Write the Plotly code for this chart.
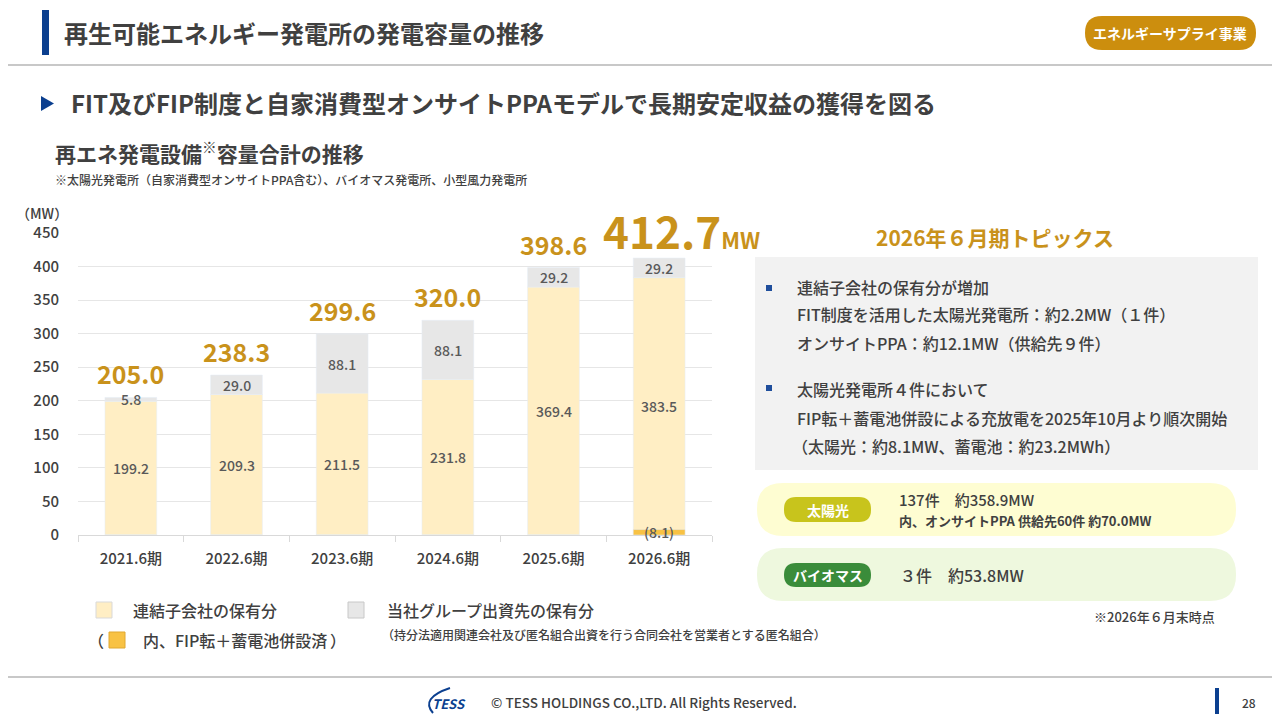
import plotly.graph_objects as go

# chart data (MW)
periods = ["2021.6期", "2022.6期", "2023.6期", "2024.6期", "2025.6期", "2026.6期"]
consolidated = [199.2, 209.3, 211.5, 231.8, 369.4, 383.5]   # 連結子会社の保有分
group_invest = [5.8, 29.0, 88.1, 88.1, 29.2, 29.2]          # 当社グループ出資先の保有分
fip_battery = [0, 0, 0, 0, 0, 8.1]                          # 内、FIP転＋蓄電池併設済
totals = [205.0, 238.3, 299.6, 320.0, 398.6, 412.7]
y_ticks = [0, 50, 100, 150, 200, 250, 300, 350, 400, 450]

topics = [
    "連結子会社の保有分が増加",
    "FIT制度を活用した太陽光発電所：約2.2MW（１件）",
    "オンサイトPPA：約12.1MW（供給先９件）",
    "太陽光発電所４件において",
    "FIP転＋蓄電池併設による充放電を2025年10月より順次開始",
    "（太陽光：約8.1MW、蓄電池：約23.2MWh）",
]

FONT = "Noto Sans CJK JP, Noto Sans, sans-serif"
TXT = "#404040"
CREAM = "#FFEEC4"
GRAY = "#E7E7E7"
ORANGE = "#F8C244"
GOLD = "#C9921B"
BLUE = "#0B3F8F"
W, H = 1280, 720
OFF = 8  # page body margin, the figure is drawn 8px in from the window corner


def px(x):
    return (x - OFF) / W


def py(y):
    return 1 - (y - OFF) / H


def rrect(x0, y0, x1, y1, r):
    """rounded rectangle path in paper coords, from pixel box"""
    rx, ry = r / W, r / H
    a, b, c, d = px(x0), py(y1), px(x1), py(y0)  # left, bottom, right, top
    return (f"M{a+rx},{b} L{c-rx},{b} Q{c},{b} {c},{b+ry} L{c},{d-ry} Q{c},{d} {c-rx},{d} "
            f"L{a+rx},{d} Q{a},{d} {a},{d-ry} L{a},{b+ry} Q{a},{b} {a+rx},{b} Z")


def rect(x0, y0, x1, y1, fill, line=None, lw=0):
    return dict(type="rect", xref="paper", yref="paper", x0=px(x0), x1=px(x1), y0=py(y1), y1=py(y0),
                fillcolor=fill, line=dict(color=line or fill, width=lw), layer="below")


def txt(x, y, s, size=14, color=TXT, anchor="left", bold=False, weight=500):
    if bold:
        s = "<b>" + s + "</b>"
    return dict(x=px(x), y=py(y), xref="paper", yref="paper", text=s, showarrow=False,
                xanchor=anchor, yanchor="middle",
                font=dict(family=FONT, size=size, color=color, weight=weight))


fig = go.Figure()
fig.add_trace(go.Bar(x=periods, y=consolidated, base=0, width=0.49, marker=dict(color=CREAM, opacity=1),
                     name="連結子会社の保有分", hoverinfo="skip"))
fig.add_trace(go.Bar(x=periods, y=group_invest, base=consolidated, width=0.49,
                     marker=dict(color=GRAY, opacity=1), name="当社グループ出資先の保有分", hoverinfo="skip"))
fig.add_trace(go.Bar(x=periods, y=fip_battery, base=0, width=0.49, marker=dict(color=ORANGE, opacity=1),
                     name="内、FIP転＋蓄電池併設済", hoverinfo="skip"))

ann = []
for i, p in enumerate(periods):
    lab = dict(family=FONT, size=14, color="#595959", weight=500)
    ann.append(dict(x=p, y=consolidated[i] / 2, text=f"{consolidated[i]:.1f}", showarrow=False, font=lab))
    ann.append(dict(x=p, y=consolidated[i] + group_invest[i] / 2, text=f"{group_invest[i]:.1f}",
                    showarrow=False, font=lab))
    if fip_battery[i]:
        ann.append(dict(x=p, y=fip_battery[i] / 2, text=f"({fip_battery[i]:.1f})", showarrow=False, font=lab))
    if i == len(periods) - 1:
        ann.append(dict(x=p, y=totals[i], yshift=28, xshift=22, showarrow=False,
                        text=f"<b>{totals[i]:.1f}<span style='font-size:22px'>MW</span></b>",
                        font=dict(family=FONT, size=44, color=GOLD)))
    else:
        ann.append(dict(x=p, y=totals[i], yshift=24, showarrow=False, text=f"<b>{totals[i]:.1f}</b>",
                        font=dict(family=FONT, size=25, color=GOLD)))

shapes = []
# header
shapes.append(rect(42, 10, 49, 55, BLUE))
shapes.append(dict(type="line", xref="paper", yref="paper", x0=0, x1=1, y0=py(65), y1=py(65),
                   line=dict(color="#C8C8C8", width=2)))
shapes.append(dict(type="path", xref="paper", yref="paper", path=rrect(1085, 16, 1256, 50, 17),
                   fillcolor="#CC8E0E", line=dict(width=0)))
shapes.append(dict(type="path", xref="paper", yref="paper",
                   path=f"M{px(41)},{py(96)} L{px(54)},{py(103.5)} L{px(41)},{py(111)} Z",
                   fillcolor=BLUE, line=dict(width=0)))
# topics panel
shapes.append(rect(755, 257, 1258, 470, "#F2F2F2"))
for yy in (288, 388):
    shapes.append(rect(766, yy - 3, 772, yy + 3, "#1F4E9C"))
shapes.append(dict(type="path", xref="paper", yref="paper", path=rrect(757, 483, 1236, 536, 26),
                   fillcolor="#FEFDD2", line=dict(width=0), layer="below"))
shapes.append(dict(type="path", xref="paper", yref="paper", path=rrect(784, 497, 871, 522, 12),
                   fillcolor="#C8C41C", line=dict(width=0)))
shapes.append(dict(type="path", xref="paper", yref="paper", path=rrect(757, 548, 1236, 601, 26),
                   fillcolor="#EEF8DE", line=dict(width=0), layer="below"))
shapes.append(dict(type="path", xref="paper", yref="paper", path=rrect(784, 563, 871, 587, 12),
                   fillcolor="#3A8C3A", line=dict(width=0)))
# legend squares
shapes.append(rect(96, 602, 112, 618, CREAM, "#D9D9D9", 1))
shapes.append(rect(348, 602, 364, 618, GRAY, "#C8C8C8", 1))
shapes.append(rect(109, 632, 125, 648, ORANGE, "#E0A830", 1))
# footer
shapes.append(dict(type="line", xref="paper", yref="paper", x0=0, x1=1, y0=py(677), y1=py(677),
                   line=dict(color="#C8C8C8", width=2)))
shapes.append(rect(1215, 688, 1219, 714, BLUE))
shapes.append(dict(type="path", xref="paper", yref="paper",
                   path=f"M{px(433)},{py(713)} Q{px(420)},{py(698)} {px(450)},{py(688)}",
                   line=dict(color=BLUE, width=2)))

# texts
ann += [
    txt(62, 33, "再生可能エネルギー発電所の発電容量の推移", 24, bold=True),
    txt(1170, 33, "エネルギーサプライ事業", 14, "white", "center", True),
    txt(69, 103, "FIT及びFIP制度と自家消費型オンサイトPPAモデルで長期安定収益の獲得を図る", 24, bold=True),
    txt(53, 152, "再エネ発電設備<sup>※</sup>容量合計の推移", 21, bold=True),
    txt(53, 179, "※太陽光発電所（自家消費型オンサイトPPA含む）、バイオマス発電所、小型風力発電所", 12),
    txt(14, 213, "（MW）", 14),
    txt(995, 237, "2026年６月期トピックス", 21, GOLD, "center", True),
    txt(828, 510, "太陽光", 14, "white", "center", True),
    txt(897, 499, "137件　約358.9MW", 15),
    txt(897, 520, "内、オンサイトPPA 供給先60件 約70.0MW", 13, bold=True),
    txt(828, 575, "バイオマス", 14, "white", "center", True),
    txt(898, 575, "３件　約53.8MW", 16),
    txt(1217, 616, "※2026年６月末時点", 13, anchor="right"),
    txt(131, 610, "連結子会社の保有分", 16),
    txt(385, 610, "当社グループ出資先の保有分", 16),
    txt(86, 640, "（", 16),
    txt(141, 640, "内、FIP転＋蓄電池併設済", 16),
    txt(328, 640, "）", 16),
    txt(380, 634, "（持分法適用関連会社及び匿名組合出資を行う合同会社を営業者とする匿名組合）", 12),
    txt(430, 703, "<i>TESS</i>", 13, BLUE, bold=True),
    txt(489, 702, "© TESS HOLDINGS CO.,LTD. All Rights Reserved.", 13.5),
    txt(1258, 702, "28", 12, anchor="right"),
]
for yy, line in zip([287, 314, 343, 389, 418, 446], topics):
    ann.append(txt(795 if not line.startswith("（") else 790, yy, line, 16))

fig.update_layout(
    width=W, height=H, margin=dict(l=0, r=0, t=0, b=0, autoexpand=False),
    paper_bgcolor="white", plot_bgcolor="white",
    barmode="overlay", showlegend=False,
    font=dict(family=FONT, color=TXT),
    shapes=shapes, annotations=ann,
    xaxis=dict(domain=[px(78), px(712)], range=[-0.5, 5.5], autorange=False, automargin=False,
               showline=True, linecolor="#D9D9D9", ticks="outside",
               tickson="boundaries", ticklen=6, tickcolor="#D9D9D9", showgrid=False,
               tickfont=dict(family=FONT, size=15, color=TXT, weight=500), ticklabelstandoff=10),
    yaxis=dict(domain=[py(535), py(233)], range=[0, 450], autorange=False, automargin=False,
               tickvals=y_ticks, showgrid=True,
               gridcolor="#E6E6E6", zeroline=False, ticks="", ticklabelstandoff=18,
               tickfont=dict(family=FONT, size=15, color=TXT, weight=500)),
)

fig.write_html("out.html")
